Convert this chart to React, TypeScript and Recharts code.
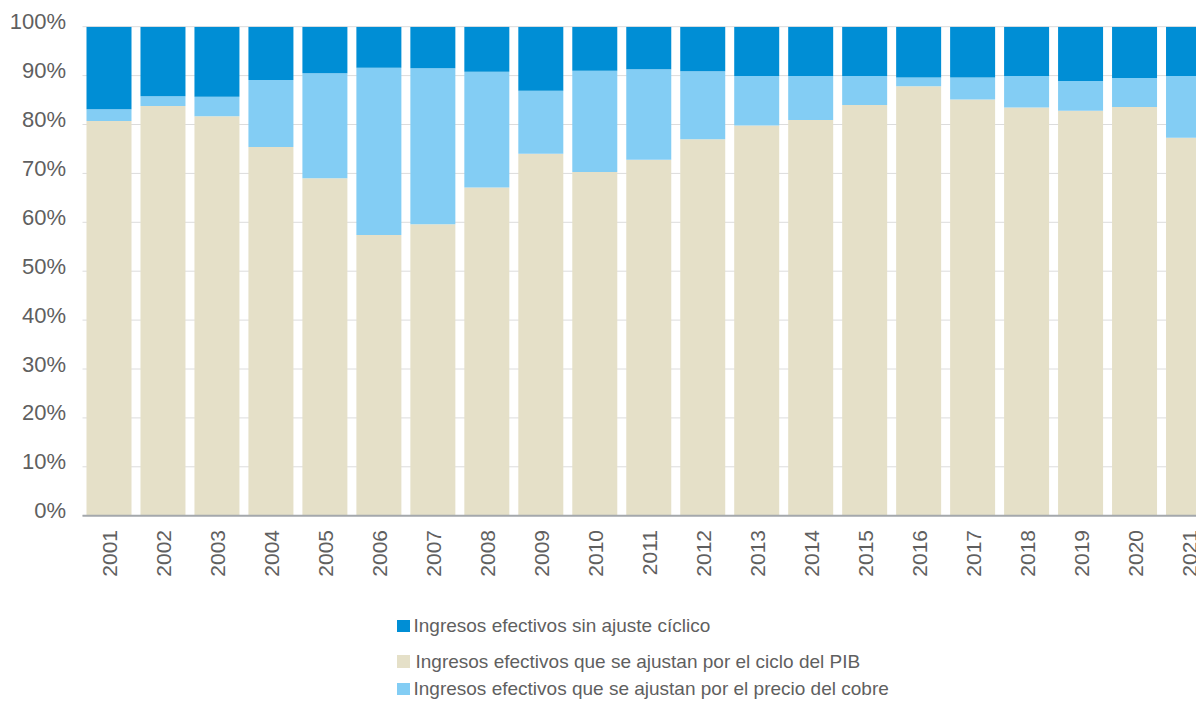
import React from 'react';
import { BarChart, Bar, XAxis, YAxis, CartesianGrid, Legend } from 'recharts';

const years = ['2001', '2002', '2003', '2004', '2005', '2006', '2007', '2008', '2009', '2010', '2011', '2012', '2013', '2014', '2015', '2016', '2017', '2018', '2019', '2020', '2021'];
const pib = [80.7, 83.8, 81.7, 75.4, 69.0, 57.4, 59.6, 67.1, 74.0, 70.3, 72.8, 77.0, 79.8, 80.9, 84.0, 87.8, 85.1, 83.5, 82.8, 83.6, 77.3];
const cobre = [2.4, 2.0, 4.0, 13.7, 21.5, 34.2, 31.9, 23.7, 12.9, 20.7, 18.5, 13.9, 10.1, 9.0, 5.9, 1.8, 4.5, 6.4, 6.1, 5.9, 12.6];
const sinAjuste = [16.9, 14.2, 14.3, 10.9, 9.5, 8.4, 8.5, 9.2, 13.1, 9.0, 8.7, 9.1, 10.1, 10.1, 10.1, 10.4, 10.4, 10.1, 11.1, 10.5, 10.1];
const yTicks = [0, 10, 20, 30, 40, 50, 60, 70, 80, 90, 100];

const seriesNames = {
  sinAjuste: 'Ingresos efectivos sin ajuste cíclico',
  pib: 'Ingresos efectivos que se ajustan por el ciclo del PIB',
  cobre: 'Ingresos efectivos que se ajustan por el precio del cobre',
};
const legendOrder = ['sinAjuste', 'pib', 'cobre'];

const data = years.map((year, i) => ({
  year,
  pib: pib[i],
  cobre: cobre[i],
  sinAjuste: sinAjuste[i],
}));

const FONT = '"Liberation Sans", Arial, sans-serif';
const TEXT = '#5f5f5f';
const rowHeights = [35.5, 36, 19];

const YTick = (props: any) => {
  const { x, y, payload } = props;
  return (
    <text x={x} y={y + 2.5} textAnchor="end" fill={TEXT} fontSize={22} fontFamily={FONT}>
      {`${payload.value}%`}
    </text>
  );
};

const XTick = (props: any) => {
  const { x, y, payload } = props;
  return (
    <g transform={`translate(${x},${y})`}>
      <text
        x={-14.3}
        y={0}
        dy={7.5}
        transform="rotate(-90)"
        textAnchor="end"
        fill={TEXT}
        fontSize={21}
        fontFamily={FONT}
      >
        {payload.value}
      </text>
    </g>
  );
};

const LegendContent = (props: any) => {
  const payload = props.payload || [];
  const sorted = legendOrder
    .map((k) => payload.find((p: any) => p.dataKey === k))
    .filter(Boolean);
  return (
    <div style={{ fontFamily: FONT, fontSize: 19, color: TEXT }}>
      {sorted.map((p: any, i: number) => (
        <div key={p.dataKey} style={{ height: rowHeights[i], display: 'flex', alignItems: 'center' }}>
          <span
            style={{
              display: 'inline-block',
              width: 12.5,
              height: 12.5,
              background: p.color,
              marginRight: i === 1 ? 6 : 4,
            }}
          />
          <span style={{ whiteSpace: 'nowrap' }}>{p.value}</span>
        </div>
      ))}
    </div>
  );
};

export default function App() {
  return (
    <div style={{ width: 1196, height: 695, overflow: 'hidden', background: '#fff' }}>
      <BarChart
        width={1208}
        height={720}
        data={data}
        margin={{ top: 18.7, right: 0, bottom: 0, left: 0 }}
        barSize={45}
      >
        <CartesianGrid vertical={false} stroke="#dcdcdc" strokeWidth={1} />
        <XAxis
          dataKey="year"
          height={212.3}
          tickSize={0}
          tickMargin={0}
          tickLine={false}
          axisLine={{ stroke: '#a4a8ac', strokeWidth: 2 }}
          tick={<XTick />}
          interval={0}
        />
        <YAxis
          width={74.5}
          domain={[0, 100]}
          ticks={yTicks}
          allowDataOverflow
          axisLine={false}
          tickLine={false}
          tickSize={6}
          tickMargin={10.5}
          tick={<YTick />}
        />
        <Legend
          layout="vertical"
          align="center"
          verticalAlign="middle"
          wrapperStyle={{ top: 600, left: 389, width: 620, height: 95 }}
          content={<LegendContent />}
        />
        <Bar dataKey="pib" name={seriesNames.pib} stackId="a" fill="#e5e0c8" isAnimationActive={false} />
        <Bar dataKey="cobre" name={seriesNames.cobre} stackId="a" fill="#83cdf4" isAnimationActive={false} />
        <Bar dataKey="sinAjuste" name={seriesNames.sinAjuste} stackId="a" fill="#008ed5" isAnimationActive={false} />
      </BarChart>
    </div>
  );
}
